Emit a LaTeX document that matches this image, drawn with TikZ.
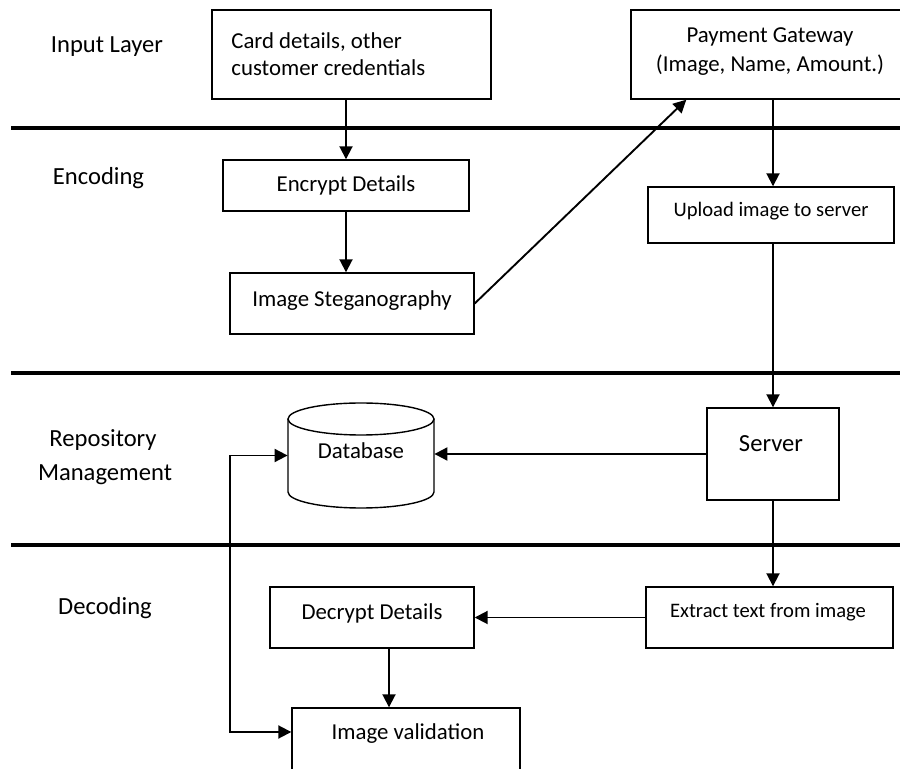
\documentclass[tikz,border=0pt]{standalone}
\usepackage{fontspec}
\setmainfont{Carlito}
\usetikzlibrary{arrows.meta,calc}

\begin{document}
\begin{tikzpicture}[x=0.5pt,y=-0.5pt,
  box/.style={draw, line width=0.7pt, rectangle, inner sep=0pt},
  lbl/.style={font=\fontsize{12.3}{15}\selectfont, inner sep=0pt, anchor=base},
  txt/.style={font=\fontsize{11.4}{14}\selectfont, inner sep=0pt, anchor=base},
  smalltxt/.style={font=\fontsize{10.3}{12}\selectfont, inner sep=0pt, anchor=base},
  sepline/.style={line width=1.7pt},
  tip/.tip={Triangle[length=6.5pt,width=6.5pt]},
  arr/.style={line width=0.95pt, -tip},
]
\useasboundingbox (0,0) rectangle (900,769);
\clip (0,0) rectangle (900,769);

% layer separators
\draw[sepline] (11,128) -- (900,128);
\draw[sepline] (11,373) -- (900,373);
\draw[sepline] (11,545) -- (900,545);

% layer labels
\node[lbl] (lInput) at (107,53) {Input Layer};
\node[lbl] (lEnc) at (98.5,185) {Encoding};
\node[lbl] (lRep1) at (103,447) {Repository};
\node[lbl] (lRep2) at (105,481) {Management};
\node[lbl] (lDec) at (105,615) {Decoding};

% boxes
\node[box, minimum width=139.5pt, minimum height=44.5pt] (card) at (351.5,54.5) {};
\node[box, minimum width=140.5pt, minimum height=44.5pt] (pg) at (771.5,54.5) {};
\node[box, minimum width=123pt, minimum height=25.5pt] (enc) at (346,185.5) {};
\node[box, minimum width=122pt, minimum height=30.5pt] (steg) at (352,303.5) {};
\node[box, minimum width=123pt, minimum height=28pt] (up) at (771,215) {};
\node[box, minimum width=66pt, minimum height=46pt] (server) at (773,454) {};
\node[box, minimum width=123.5pt, minimum height=30.5pt] (ext) at (769.5,617.5) {};
\node[box, minimum width=102pt, minimum height=30.5pt] (dec) at (372,617.5) {};
\node[box, minimum width=114pt, minimum height=33.5pt] (val) at (406,741.5) {};

% database cylinder
\node[inner sep=0pt, minimum width=73pt, minimum height=52.5pt] (db) at (361,455.5) {};
\draw[line width=0.7pt] (288,419) -- (288,492)
  arc[start angle=180, end angle=360, x radius=36.5pt, y radius=8pt] -- (434,419);
\draw[line width=0.7pt] (361,419) ellipse [x radius=36.5pt, y radius=8pt];

% box texts
\node[txt, anchor=base west] (tCard1) at (231,49) {Card details, other};
\node[txt, anchor=base west] (tCard2) at (231,76) {customer credentials};
\node[txt] (tPg1) at (770,43) {Payment Gateway};
\node[txt] (tPg2) at (770,72) {(Image, Name, Amount.)};
\node[txt] (tEnc) at (346,192) {Encrypt Details};
\node[txt] (tSteg) at (352,307) {Image Steganography};
\node[smalltxt] (tUp) at (771,217) {Upload image to server};
\node[txt] (tDb) at (361,459) {Database};
\node[lbl] (tServer) at (771,452) {Server};
\node[smalltxt] (tExt) at (768,618) {Extract text from image};
\node[txt] (tDec) at (372,620) {Decrypt Details};
\node[txt] (tVal) at (408,740) {Image validation};

% connectors
\draw[arr] (card.south -| enc.north) -- (enc.north);
\draw[arr] (enc.south) -- (enc.south |- steg.north);
\draw[arr] (steg.east) -- ($(pg.south west)+(56,0)$);
\draw[arr] (server.north |- pg.south) -- (server.north |- up.north);
\draw[arr] (server.north |- up.south) -- (server.north);
\draw[arr] (server.west) -- (server.west -| db.east);
\draw[arr] (server.south) -- (server.south |- ext.north);
\draw[arr] (ext.west) -- (dec.east);
\draw[arr] ([xshift=8.5pt]dec.south) -- ([xshift=8.5pt]dec.south |- val.north);
\draw[line width=0.95pt, tip-tip] (db.west) -- ++(-58,0) |- ([yshift=4.75pt]val.west);
\end{tikzpicture}
\end{document}
